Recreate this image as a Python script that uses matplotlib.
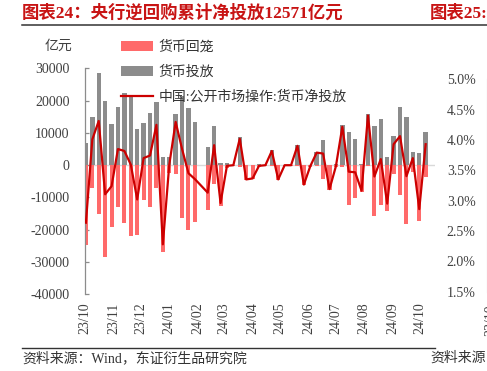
import matplotlib
matplotlib.use('Agg')
import matplotlib.pyplot as plt
import numpy as np
import pandas as pd
from matplotlib.patches import Patch
from matplotlib.lines import Line2D

plt.rcParams['font.family'] = ['Liberation Serif', 'Noto Sans CJK SC']

# ---- data (亿元, weekly) ----
week_start = '2023-10-02'
injection = [7000, 15000, 28500, 19800, 12900, 18000, 22200, 21800, 11100, 13100,
             16200, 19600, 2600, 2600, 16000, 21500, 17700, 13400, np.nan, 5600,
             12000, 800, 800, 200, 8800, 200, 200, 300, 200, 4600,
             200, 200, 200, 6200, 200, 200, 4100, 7800, 200, 300,
             12400, 10200, 8100, 500, 15700, 12200, 14200, 2400, 9100, 18100,
             14800, 4200, 3700, 10200]
withdrawal = [-24700, -7200, -15000, -28500, -19100, -12900, -18000, -22000, -21600, -10800,
              -12900, -7200, -26800, -2500, -2600, -16500, -20100, -17500, np.nan, -13900,
              -5700, -12500, -1000, -200, -600, -4600, -4300, -500, -200, -200,
              -4600, -200, -200, -200, -6200, -500, -200, -4200, -7600, -600,
              -500, -12200, -10300, -8400, -300, -15700, -12300, -14300, -2600, -9100,
              -18200, -2000, -17300, -3700]
net_injection = [-17800, 8000, 13700, -9000, -6500, 5000, 4400, 200, -10600, 2200,
                 3000, 12500, -24500, 100, 13400, 5000, -2500, -4300, np.nan, -8500,
                 6200, -11700, -200, 0, 8200, -4400, -4100, -200, 0, 4400,
                 -4400, 0, 0, 6000, -6000, -300, 3900, 3600, -7400, -300,
                 11900, -2000, -2200, -7900, 15400, -3500, 1900, -11900, 6500, 9000,
                 -3400, 2200, -13600, 6500]
month_labels = ['23/10', '23/11', '23/12', '24/01', '24/02', '24/03', '24/04',
                '24/05', '24/06', '24/07', '24/08', '24/09', '24/10']
y_ticks = [30000, 20000, 10000, 0, -10000, -20000, -30000, -40000]
right_ticks = [5.0, 4.5, 4.0, 3.5, 3.0, 2.5, 2.0, 1.5]
legend_labels = ['货币回笼', '货币投放', '中国:公开市场操作:货币净投放']

dates = pd.date_range(week_start, periods=len(injection), freq='7D')
month_ticks = pd.date_range('2023-10-01', periods=len(month_labels), freq='MS')

W, H = 487, 371
fig = plt.figure(figsize=(W / 100, H / 100), dpi=100)

def fx(px):
    return px / W

def fy(py):
    return 1 - py / H

ax = fig.add_axes([fx(85), fy(294.4), fx(434.6 - 85), 226.1 / H])
ax.set_facecolor('none')

ax.axhline(0, color='#d9d9d9', lw=1.0, zorder=1)
ax.bar(dates, withdrawal, width=4.4, color='#ff6a6a', zorder=2)
ax.bar(dates, injection, width=4.8, color='#8c8c8c', zorder=2)
net_arr = np.array(net_injection, dtype=float)
m = np.isfinite(net_arr)
ax.plot(dates[m], net_arr[m], color='#cc0000', lw=1.6, zorder=3)

ax.set_xlim(pd.Timestamp('2023-10-01'), pd.Timestamp('2024-10-16 18:00'))
ax.set_ylim(-40000, 30000)
ax.set_yticks(y_ticks)
ax.set_yticklabels([str(v) for v in y_ticks])
ax.set_xticks(month_ticks)
ax.set_xticklabels(month_labels, rotation=90)

for s in ['top', 'right', 'bottom']:
    ax.spines[s].set_visible(False)
ax.spines['left'].set_color('#8c8c8c')
ax.spines['left'].set_linewidth(0.9)
ax.tick_params(axis='y', direction='in', length=3, color='#8c8c8c', width=0.9,
               pad=11, labelsize=10, labelcolor='#404040')
ax.tick_params(axis='x', length=0, pad=6, labelsize=10, labelcolor='#404040')

handles = [Patch(facecolor='#ff6a6a', edgecolor='none'),
           Patch(facecolor='#8c8c8c', edgecolor='none'),
           Line2D([0], [0], color='#cc0000', lw=1.6)]
leg = fig.legend(handles, legend_labels, loc='upper left',
                 bbox_to_anchor=(fx(121), fy(40)), bbox_transform=fig.transFigure,
                 frameon=False, fontsize=10, borderpad=0, borderaxespad=0,
                 handlelength=2.3, handleheight=0.75, handletextpad=0.4,
                 labelspacing=0.85, labelcolor='#333333')
leg.set_zorder(10)

fig.text(fx(58), fy(46), '亿元', ha='center', va='center', fontsize=10, color='#404040')

# title and rules
fig.text(fx(22), fy(13), '图表24：央行逆回购累计净投放12571亿元', color='#c81414',
         fontsize=12.5, fontweight='bold', va='center', ha='left')
fig.text(fx(430), fy(13), '图表25:', color='#c81414',
         fontsize=12.5, fontweight='bold', va='center', ha='left')
fig.add_artist(Line2D([fx(22), 1], [fy(25), fy(25)], color='#333333', lw=1.1))
fig.add_artist(Line2D([fx(22), fx(435)], [fy(347.5), fy(347.5)], color='#333333', lw=1.0))
fig.text(fx(22), fy(358), '资料来源：Wind，东证衍生品研究院', fontsize=10,
         va='center', ha='left', color='#333333')
fig.text(fx(430), fy(358), '资料来源：', fontsize=10, va='center', ha='left', color='#333333')

# neighbouring chart (figure 25) axis, cut by the edge
ax2 = fig.add_axes([486.7 / W, fy(291.7), 0.2, 212.4 / H])
ax2.patch.set_visible(False)
ax2.set_ylim(1.5, 5.0)
ax2.set_yticks(right_ticks)
ax2.set_yticklabels([f'{v:.1f}%' for v in right_ticks])
ax2.set_xticks([])
for s in ['top', 'right', 'bottom']:
    ax2.spines[s].set_visible(False)
ax2.spines['left'].set_color('#bfbfbf')
ax2.tick_params(axis='y', direction='in', length=0, pad=8, labelsize=10, labelcolor='#404040')
fig.text(fx(491), fy(304), '23/10', rotation=90, ha='center', va='top', fontsize=10,
         color='#404040')

fig.savefig('out.png', dpi=100)
